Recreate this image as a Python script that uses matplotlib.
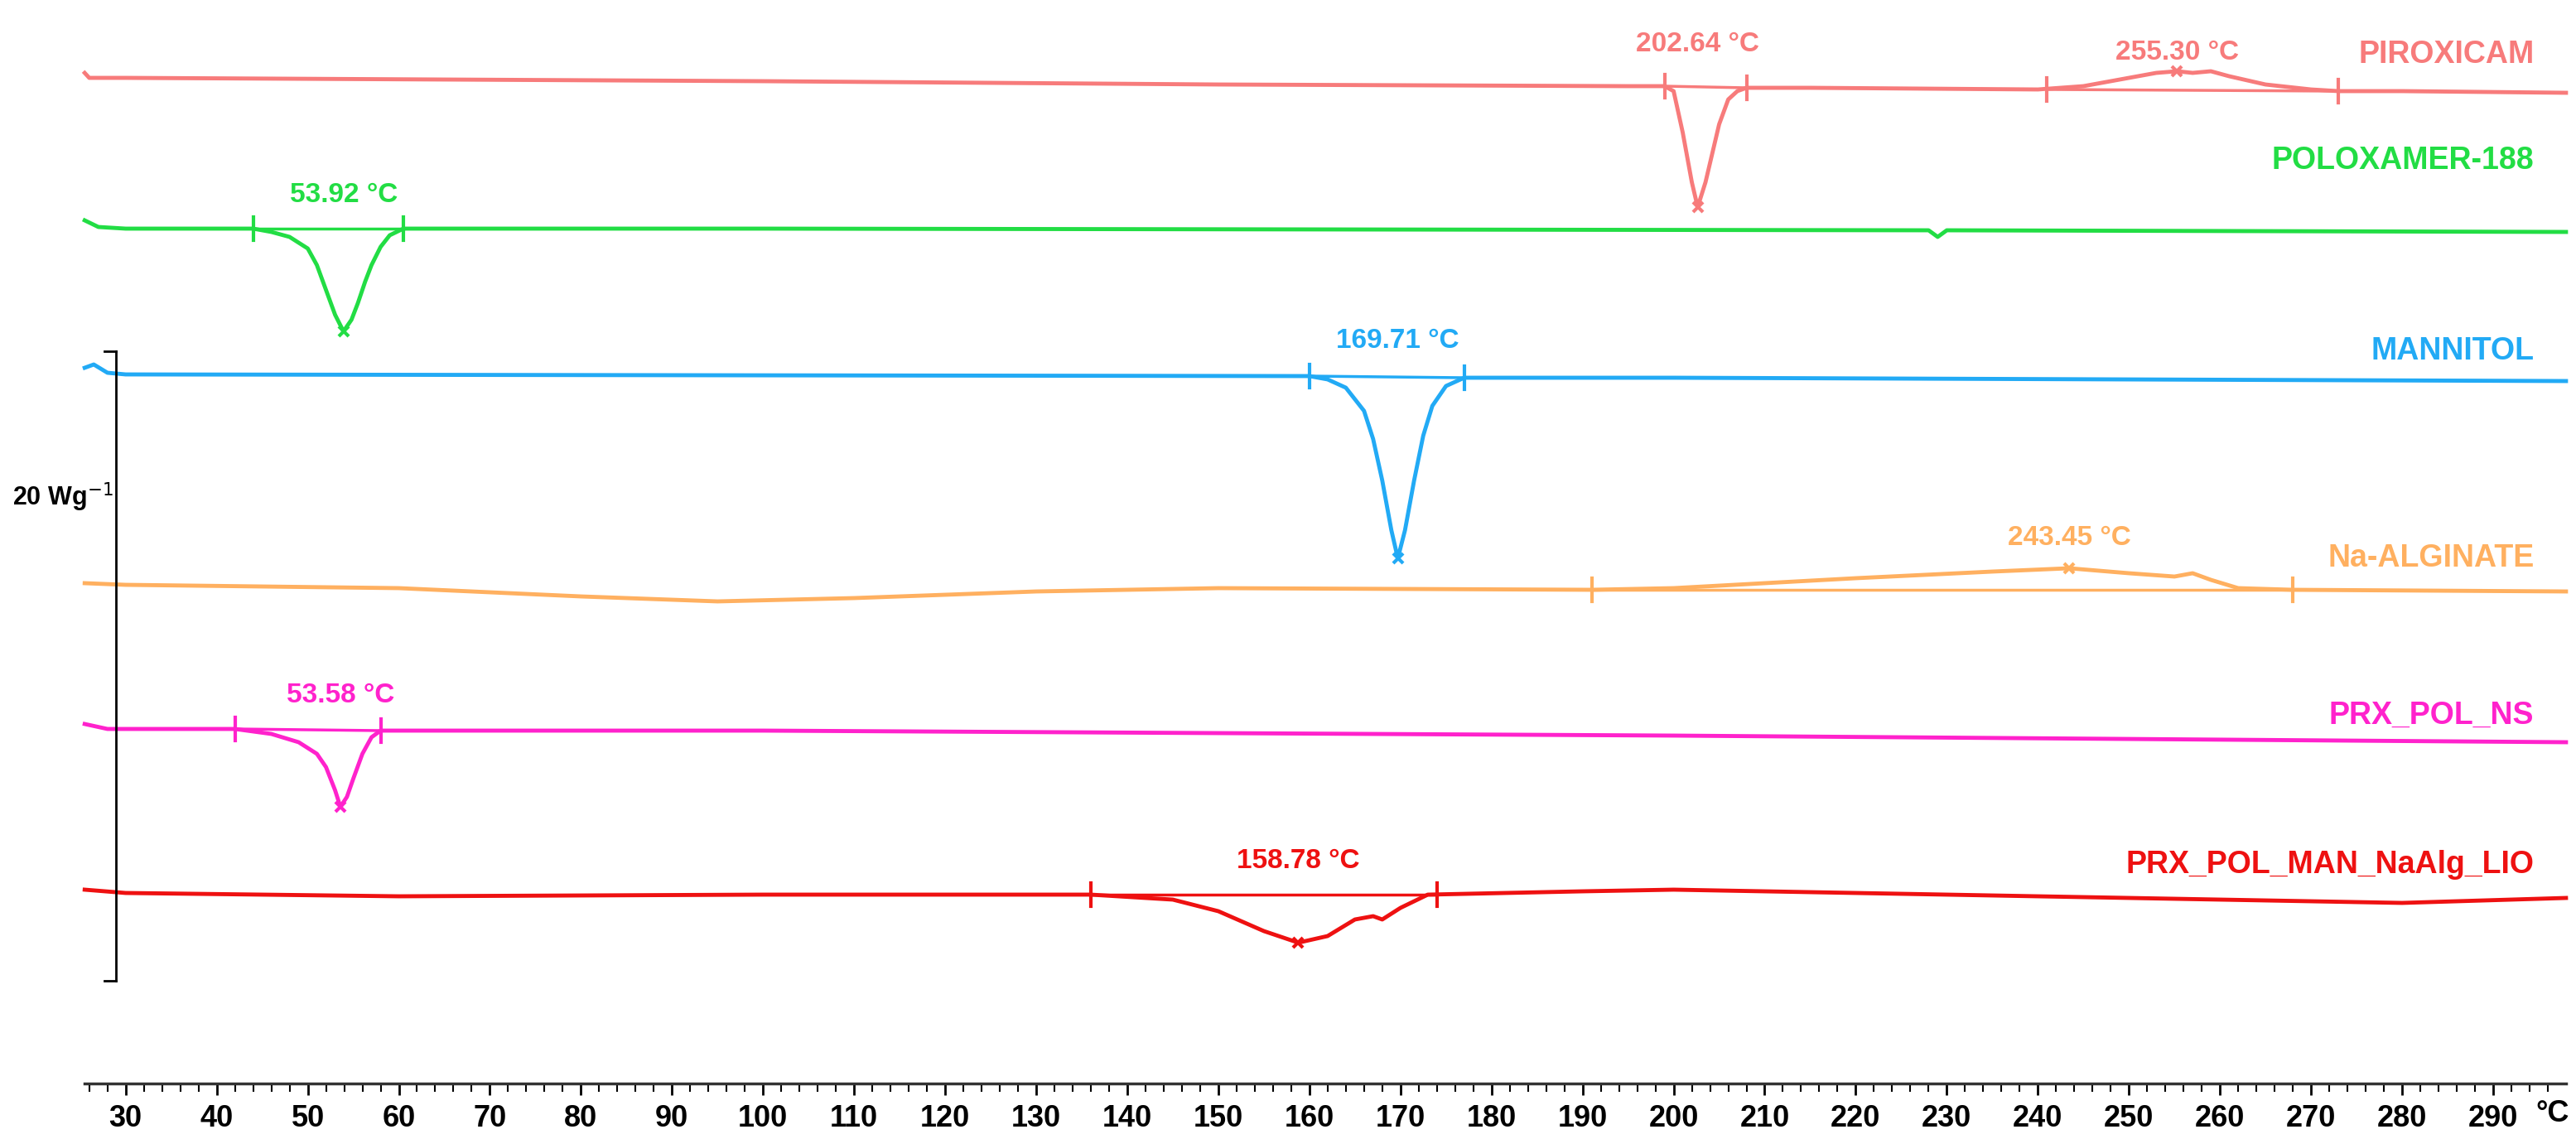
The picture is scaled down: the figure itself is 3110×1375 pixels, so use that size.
import matplotlib
matplotlib.use("Agg")
import matplotlib.pyplot as plt
from matplotlib.ticker import FixedLocator

plt.rcParams['font.family'] = ['Liberation Sans', 'DejaVu Sans']

# curves: temperature (°C) and heat flow offset (display units, downward = endo)
pir_t = [25.5, 26, 30, 100, 150, 195, 199, 200, 201, 202, 202.64, 203.5, 205, 206, 207, 208, 215, 240,
         245, 250, 253, 255.3, 257, 259, 261, 265, 270, 273, 280, 298]
pir_y = [44, 47, 47, 49, 51, 52, 52, 55, 80, 110, 125, 110, 75, 60, 55, 53, 53, 54,
         52, 47, 44, 43, 44, 43, 46, 51, 54, 55, 55, 56]
pol_t = [25.5, 27, 30, 44, 46, 48, 50, 51, 52, 53, 53.92, 54.8, 55.5, 56.3, 57, 58, 59, 60.5, 100,
         228, 229, 230, 298]
pol_y = [133, 137, 138, 138, 140, 143, 150, 160, 175, 190, 200, 193, 183, 170, 160, 149, 142, 138, 138,
         139, 143, 139, 140]
man_t = [25.5, 26.5, 28, 30, 160, 162, 164, 166, 167, 168, 169, 169.71, 170.5, 171.5, 172.5, 173.5,
         175, 177, 200, 298]
man_y = [222, 220, 225, 226, 227, 229, 234, 248, 265, 290, 320, 337, 320, 290, 263, 245, 233, 228, 228, 230]
alg_t = [25.5, 30, 60, 80, 95, 110, 130, 150, 191, 200, 220, 235, 243.45, 250, 255, 257, 259, 262, 268, 298]
alg_y = [352, 353, 355, 360, 363, 361, 357, 355, 356, 355, 349, 345, 343, 346, 348, 346, 350, 355, 356, 357]
ns_t = [25.5, 28, 42, 46, 49, 51, 52, 53, 53.58, 54.3, 55, 56, 57, 58, 100, 200, 298]
ns_y = [437, 440, 440, 443, 448, 455, 463, 477, 487, 481, 470, 455, 445, 441, 441, 444, 448]
lio_t = [25.5, 30, 60, 100, 136, 145, 150, 155, 158.78, 162, 165, 167, 168, 170, 173, 190, 200,
         220, 250, 280, 298]
lio_y = [537, 539, 541, 540, 540, 543, 550, 562, 569, 565, 555, 553, 555, 548, 540, 538, 537,
         539, 542, 545, 542]

names = ['PIROXICAM', 'POLOXAMER-188', 'MANNITOL', 'Na-ALGINATE', 'PRX_POL_NS', 'PRX_POL_MAN_NaAlg_LIO']
colors = ['#f77b7b', '#22dd44', '#22aaf5', '#ffb060', '#ff22cc', '#ee1111']
name_y = [33, 97, 212, 337, 432, 522]
curves = [(pir_t, pir_y), (pol_t, pol_y), (man_t, man_y), (alg_t, alg_y), (ns_t, ns_y), (lio_t, lio_y)]

# peaks: curve index, peak T, peak y, label y, limits (T1, y1, T2, y2)
peaks = [
    (0, 202.64, 125, 27, (199, 52, 208, 53)),
    (0, 255.30, 43, 32, (241, 54, 273, 55)),
    (1, 53.92, 200, 118, (44, 138, 60.5, 138)),
    (2, 169.71, 337, 206, (160, 227, 177, 228)),
    (3, 243.45, 343, 325, (191, 356, 268, 356)),
    (4, 53.58, 487, 420, (42, 440, 58, 441)),
    (5, 158.78, 569, 520, (136, 540, 174, 540)),
]

fig = plt.figure(figsize=(31.1, 13.75), dpi=100)
ax = fig.add_axes([0, 1 - 654 / 687.5, 1, 654 / 687.5])
ax.set_xlim(16.2, 299.1)
ax.set_ylim(654, 0)

for (t, y), c in zip(curves, colors):
    ax.plot(t, y, color=c, lw=3.5)
for name, c, ny in zip(names, colors, name_y):
    ax.text(294.5, ny, name, color=c, fontsize=27, fontweight='bold', ha='right', va='center')

for idx, pt, py, ly, (t1, y1, t2, y2) in peaks:
    c = colors[idx]
    ax.plot([t1, t2], [y1, y2], color=c, lw=2.5)
    for tl, yl in [(t1, y1), (t2, y2)]:
        ax.plot([tl, tl], [yl - 7, yl + 7], color=c, lw=3)
    ax.plot(pt, py, marker='x', color=c, ms=9, mew=3)
    ax.text(pt, ly, f'{pt:.2f} °C', color=c, fontsize=24, fontweight='bold', ha='center', va='center')

# scale bar
ax.plot([28.9, 28.9], [212, 592], color='black', lw=2)
ax.plot([27.7, 28.9], [212, 212], color='black', lw=2)
ax.plot([27.7, 28.9], [592, 592], color='black', lw=2)
ax.text(17.6, 300, '20 Wg$^{-1}$', fontsize=22, fontweight='bold', ha='left', va='center')

for s in ['top', 'left', 'right']:
    ax.spines[s].set_visible(False)
ax.spines['bottom'].set_bounds(25.5, 298)
ax.spines['bottom'].set_linewidth(2.5)
ax.spines['bottom'].set_color('#333333')
ax.set_yticks([])
ax.set_xticks(list(range(30, 300, 10)))
ax.xaxis.set_minor_locator(FixedLocator([v for v in range(26, 298, 2) if v % 10]))
ax.tick_params(axis='x', which='major', length=10, width=2, labelsize=26, pad=8)
ax.tick_params(axis='x', which='minor', length=7, width=1.5)
for lab in ax.get_xticklabels():
    lab.set_fontweight('bold')
ax.text(296.5, 654 + 18, '°C', fontsize=26, fontweight='bold', ha='center', va='center', clip_on=False)

fig.savefig('out.png', dpi=100)
